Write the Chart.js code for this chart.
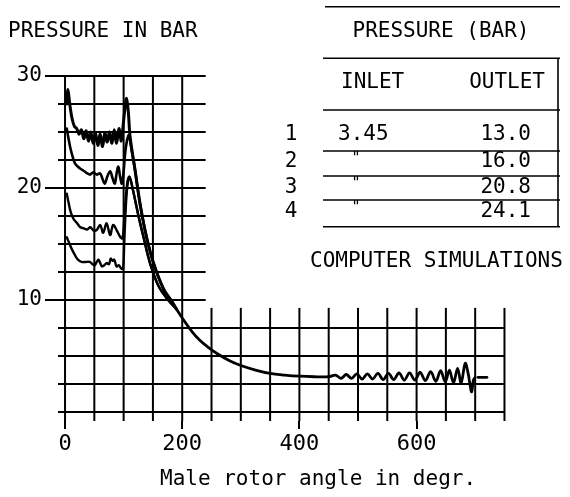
<!DOCTYPE html>
<html>
<head>
<meta charset="utf-8">
<script src="https://cdn.jsdelivr.net/npm/chart.js@4"></script>
<style>
  html, body { margin: 0; padding: 0; background: #fff; }
  canvas { display: block; }
</style>
</head>
<body>
<canvas id="chart" width="570" height="497"></canvas>
<script>
// outlet 13.0 bar
const angle1 = [3, 7, 12, 17, 22, 28, 35, 42, 47, 51, 54, 57, 60, 63, 67, 71, 75, 78, 81, 84, 88, 92, 96, 99, 101, 103, 106, 110, 116, 125, 134, 145, 160, 176, 190];
const pres1  = [15.6, 15.1, 14.5, 14.0, 13.6, 13.4, 13.4, 13.4, 13.2, 13.1, 13.4, 13.6, 13.3, 13.0, 13.1, 13.3, 13.2, 13.7, 13.5, 13.6, 13.0, 13.1, 12.8, 12.8, 15.0, 17.5, 20.0, 21.0, 19.8, 17.6, 15.6, 13.3, 11.2, 10.0, 9.2];
// outlet 16.0 bar
const angle2 = [3, 6, 10, 15, 20, 26, 32, 38, 43, 49, 54, 60, 65, 71, 77, 82, 88, 94, 98, 101, 104, 107, 110, 116, 125, 134, 145, 160, 176, 190];
const pres2  = [19.5, 18.7, 17.8, 17.2, 16.9, 16.5, 16.4, 16.3, 16.5, 16.2, 16.25, 16.7, 16.0, 16.85, 15.8, 16.7, 16.25, 15.65, 15.5, 17.2, 19.3, 20.7, 21.0, 19.8, 17.6, 15.6, 13.3, 11.2, 10.0, 9.2];
// outlet 20.8 bar
const angle3 = [3, 6, 9, 13, 17, 22, 27, 33, 38, 43, 48, 54, 60, 64, 68, 72, 77, 81, 85, 88, 91, 94, 97, 100, 103, 106, 109, 113, 119.5, 128, 139, 151, 168, 182, 190];
const pres3  = [25.3, 24.4, 23.6, 22.8, 22.2, 21.9, 21.7, 21.5, 21.3, 21.2, 21.4, 21.2, 21.3, 20.8, 20.4, 21.0, 21.5, 20.9, 20.4, 21.3, 21.9, 21.0, 20.4, 21.5, 23.3, 24.3, 24.7, 23.6, 21.6, 18.6, 15.65, 13.3, 11.0, 9.9, 9.2];
// outlet 24.1 bar
const angle4 = [3, 5, 8, 12, 16, 20, 24, 28, 32, 36, 40, 44, 48, 52, 56, 60, 64, 68, 72, 76, 80, 84, 88, 92, 96, 99, 102, 105, 108, 111, 119.5, 128, 139, 151, 168, 182, 190];
const pres4  = [27.5, 28.8, 27.5, 26.2, 25.5, 25.3, 24.8, 25.2, 24.4, 25.1, 24.2, 25.0, 24.0, 24.9, 23.8, 24.8, 23.7, 24.9, 24.1, 25.0, 24.0, 25.2, 24.0, 25.3, 24.2, 25.5, 27.0, 28.0, 26.8, 24.6, 21.6, 18.6, 15.65, 13.3, 11.0, 9.9, 9.2];
// common part after the curves merge
const tailAngle = [190, 200, 215, 230, 245, 260, 280, 300, 325, 350, 375, 400, 425, 450, 462, 471, 480, 489, 498, 507, 516, 525, 534, 543, 552, 561, 570, 579, 588, 597, 606, 615, 624, 633, 641, 649, 656, 663, 670, 676, 683, 688, 691, 694, 697, 700];
const tailPres  = [9.2, 8.4, 7.3, 6.4, 5.75, 5.2, 4.6, 4.15, 3.75, 3.45, 3.3, 3.2, 3.15, 3.15, 3.3, 3.0, 3.35, 3.0, 3.4, 2.95, 3.4, 2.95, 3.45, 2.9, 3.45, 2.9, 3.5, 2.85, 3.5, 2.85, 3.55, 2.8, 3.6, 2.75, 3.7, 2.7, 3.75, 2.6, 3.9, 2.6, 4.35, 3.45, 2.5, 1.8, 2.85, 3.1];
const endAngle = [705, 720];
const endPres  = [3.1, 3.1];

const xTicks = [0, 200, 400, 600];
const yTicks = [10, 20, 30];
const inletPressure = 3.45;
const outletPressures = [13.0, 16.0, 20.8, 24.1];

const FONT = '"DejaVu Sans Mono", monospace';
Chart.defaults.font.family = FONT;
Chart.defaults.color = '#000';

const pts = (xs, ys) => xs.map((v, i) => ({ x: v, y: ys[i] }));
const line = (data, w = 2.4) => ({
  data, borderColor: '#000', borderWidth: w, pointRadius: 0,
  fill: false, tension: 0.35, borderJoinStyle: 'round', borderCapStyle: 'round'
});

// partial grid, like the original paper: tall block on the left, low block on the right
const gridPlugin = {
  id: 'paperGrid',
  beforeDatasetsDraw(chart) {
    const { ctx, scales: { x, y } } = chart;
    ctx.save();
    ctx.strokeStyle = '#000';
    ctx.lineWidth = 2;
    const seg = (x0, y0, x1, y1) => {
      ctx.beginPath();
      ctx.moveTo(x.getPixelForValue(x0), y.getPixelForValue(y0));
      ctx.lineTo(x.getPixelForValue(x1), y.getPixelForValue(y1));
      ctx.stroke();
    };
    for (let v = 0; v <= 30; v += 2.5) seg(-12, v, v < 9 ? 750 : 240, v);
    for (let a = 0; a <= 750; a += 50) seg(a, a <= 200 ? 30 : 9.3, a, -0.8);
    ctx.restore();
  }
};

const textPlugin = {
  id: 'paperText',
  afterDraw(chart) {
    const ctx = chart.ctx;
    ctx.save();
    ctx.fillStyle = '#000';
    ctx.strokeStyle = '#000';
    ctx.font = '21px ' + FONT;
    ctx.textBaseline = 'middle';
    const put = (s, px, py, align = 'left') => { ctx.textAlign = align; ctx.fillText(s, px, py); };

    put('PRESSURE IN BAR', 8, 32);
    put('PRESSURE (BAR)', 441, 32, 'center');
    put('INLET', 341, 83);
    put('OUTLET', 545, 83, 'right');
    put('COMPUTER SIMULATIONS', 310, 262);
    put('Male rotor angle in degr.', 160, 480);

    const rowY = [135, 162, 188, 212];
    outletPressures.forEach((p, i) => {
      put(String(i + 1), 291, rowY[i], 'center');
      put(p.toFixed(1), 531, rowY[i], 'right');
    });
    put(inletPressure.toFixed(2), 338, rowY[0]);

    // table rules
    ctx.lineWidth = 1.6;
    [6.7, 58.3, 110, 151, 176, 200, 226.7].forEach((ly, i) => {
      ctx.beginPath();
      ctx.moveTo(i === 0 ? 325 : 323, ly);
      ctx.lineTo(560, ly);
      ctx.stroke();
    });
    ctx.beginPath();
    ctx.moveTo(558, 58.3);
    ctx.lineTo(558, 226.7);
    ctx.stroke();

    // ditto marks
    ctx.font = '15px ' + FONT;
    ctx.textBaseline = 'top';
    [151, 176, 200].forEach(ly => put('"', 356, ly + 1, 'center'));
    ctx.restore();
  }
};

new Chart(document.getElementById('chart'), {
  type: 'line',
  data: {
    datasets: [
      line(pts(angle1, pres1)),
      line(pts(angle2, pres2)),
      line(pts(angle3, pres3), 2.6),
      line(pts(angle4, pres4), 3),
      line(pts(tailAngle, tailPres), 2.8),
      line(pts(endAngle, endPres), 2.8)
    ]
  },
  options: {
    responsive: false,
    animation: false,
    layout: { padding: { top: 64.8, right: 62.6, left: 0, bottom: 0 } },
    plugins: { legend: { display: false }, tooltip: { enabled: false } },
    scales: {
      x: {
        type: 'linear', min: -12, max: 755,
        afterBuildTicks: s => { s.ticks = xTicks.map(v => ({ value: v })); },
        afterFit: s => { s.height = 76; },
        border: { display: false },
        grid: { drawOnChartArea: false, drawTicks: true, tickLength: 8, color: '#000', lineWidth: 2 },
        ticks: { font: { size: 22 }, padding: 2, maxRotation: 0, color: '#000' }
      },
      y: {
        min: -0.8, max: 31,
        afterBuildTicks: s => { s.ticks = yTicks.map(v => ({ value: v })); },
        afterFit: s => { s.width = 58; },
        border: { display: false },
        grid: { drawOnChartArea: false, drawTicks: true, tickLength: 13, color: '#000', lineWidth: 2 },
        ticks: { font: { size: 21 }, padding: 3, color: '#000' }
      }
    }
  },
  plugins: [gridPlugin, textPlugin]
});
</script>
</body>
</html>
